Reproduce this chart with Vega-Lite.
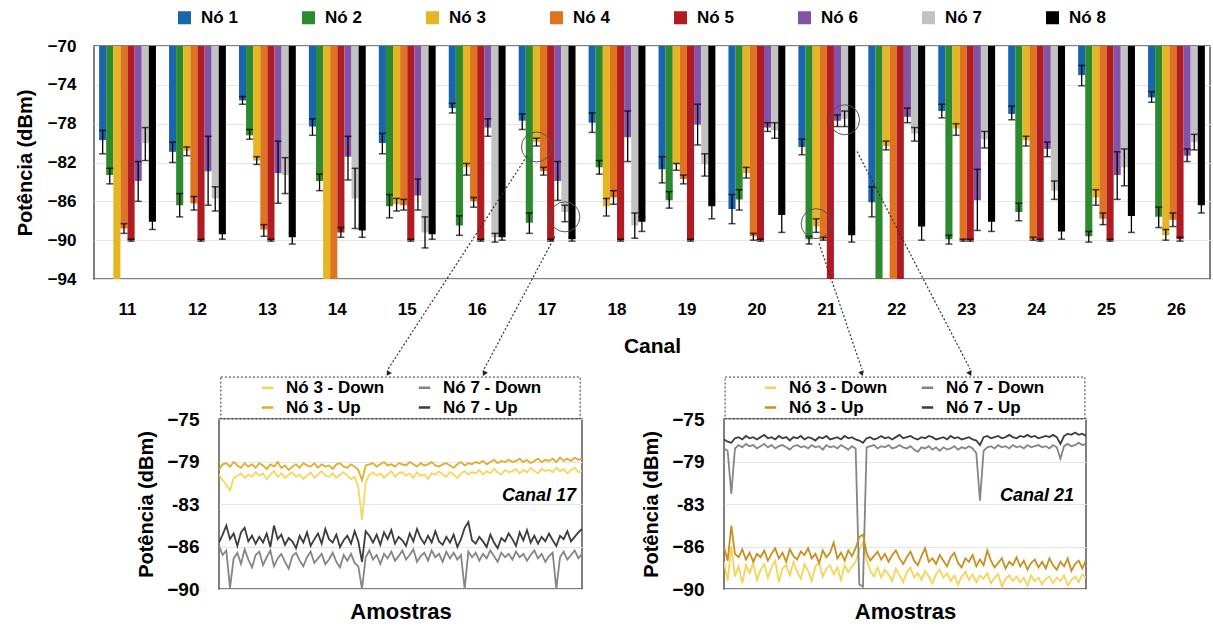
{
  "$schema": "https://vega.github.io/schema/vega-lite/v6.json",
  "padding": {"left": 14, "top": 8, "right": 2, "bottom": 5},
  "bounds": "flush",
  "spacing": 140,
  "resolve": {"scale": {"color": "independent"}, "legend": {"color": "independent"}},
  "config": {
    "font": "Liberation Sans",
    "view": {"stroke": "#555555", "strokeWidth": 1.5},
    "axis": {"labelFont": "Liberation Sans", "titleFont": "Liberation Sans", "labelFontWeight": "bold", "titleFontWeight": "bold", "labelColor": "#000000", "titleColor": "#000000", "ticks": false, "domain": false, "gridColor": "#e6e6e6", "labelOverlap": false},
    "legend": {"labelFont": "Liberation Sans", "labelFontWeight": "bold", "labelColor": "#000000"}
  },
  "datasets": {
    "bars": [
      {"canal": "11", "no": "Nó 1", "v": -79.7, "lo": -78.7, "hi": -81.1},
      {"canal": "11", "no": "Nó 2", "v": -83.3, "lo": -82.6, "hi": -84.2},
      {"canal": "11", "no": "Nó 3", "v": -94},
      {"canal": "11", "no": "Nó 4", "v": -88.8, "lo": -88.3, "hi": -89.3},
      {"canal": "11", "no": "Nó 5", "v": -90.0, "lo": -89.9, "hi": -90.1},
      {"canal": "11", "no": "Nó 6", "v": -83.9, "lo": -81.9, "hi": -86.0},
      {"canal": "11", "no": "Nó 7", "v": -80.0, "lo": -78.4, "hi": -81.8},
      {"canal": "11", "no": "Nó 8", "v": -88.1, "lo": -87.5, "hi": -88.9},
      {"canal": "12", "no": "Nó 1", "v": -80.9, "lo": -79.9, "hi": -82.0},
      {"canal": "12", "no": "Nó 2", "v": -86.4, "lo": -85.2, "hi": -87.6},
      {"canal": "12", "no": "Nó 3", "v": -80.8, "lo": -80.4, "hi": -81.3},
      {"canal": "12", "no": "Nó 4", "v": -86.2, "lo": -85.5, "hi": -86.9},
      {"canal": "12", "no": "Nó 5", "v": -90.0, "lo": -89.9, "hi": -90.1},
      {"canal": "12", "no": "Nó 6", "v": -82.9, "lo": -79.3, "hi": -86.4},
      {"canal": "12", "no": "Nó 7", "v": -85.7, "lo": -84.5, "hi": -87.0},
      {"canal": "12", "no": "Nó 8", "v": -89.4, "lo": -88.9, "hi": -89.9},
      {"canal": "13", "no": "Nó 1", "v": -75.6, "lo": -75.2, "hi": -76.0},
      {"canal": "13", "no": "Nó 2", "v": -79.2, "lo": -78.6, "hi": -79.6},
      {"canal": "13", "no": "Nó 3", "v": -81.8, "lo": -81.4, "hi": -82.2},
      {"canal": "13", "no": "Nó 4", "v": -88.9, "lo": -88.4, "hi": -89.6},
      {"canal": "13", "no": "Nó 5", "v": -90.0, "lo": -89.9, "hi": -90.1},
      {"canal": "13", "no": "Nó 6", "v": -83.1, "lo": -79.8, "hi": -86.2},
      {"canal": "13", "no": "Nó 7", "v": -83.3, "lo": -81.5, "hi": -85.2},
      {"canal": "13", "no": "Nó 8", "v": -89.7, "lo": -89.2, "hi": -90.4},
      {"canal": "14", "no": "Nó 1", "v": -78.3, "lo": -77.5, "hi": -79.2},
      {"canal": "14", "no": "Nó 2", "v": -83.9, "lo": -83.2, "hi": -84.9},
      {"canal": "14", "no": "Nó 3", "v": -94},
      {"canal": "14", "no": "Nó 4", "v": -94},
      {"canal": "14", "no": "Nó 5", "v": -89.2, "lo": -88.7, "hi": -89.7},
      {"canal": "14", "no": "Nó 6", "v": -81.4, "lo": -79.3, "hi": -83.8},
      {"canal": "14", "no": "Nó 7", "v": -85.7, "lo": -82.6, "hi": -88.8},
      {"canal": "14", "no": "Nó 8", "v": -89.0, "lo": -88.5, "hi": -89.7},
      {"canal": "15", "no": "Nó 1", "v": -80.0, "lo": -79.0, "hi": -81.1},
      {"canal": "15", "no": "Nó 2", "v": -86.5, "lo": -85.3, "hi": -87.7},
      {"canal": "15", "no": "Nó 3", "v": -86.3, "lo": -85.7, "hi": -87.0},
      {"canal": "15", "no": "Nó 4", "v": -86.4, "lo": -85.8, "hi": -86.9},
      {"canal": "15", "no": "Nó 5", "v": -90.0, "lo": -89.9, "hi": -90.1},
      {"canal": "15", "no": "Nó 6", "v": -85.4, "lo": -83.7, "hi": -86.9},
      {"canal": "15", "no": "Nó 7", "v": -89.2, "lo": -87.6, "hi": -90.8},
      {"canal": "15", "no": "Nó 8", "v": -89.4, "lo": -88.8, "hi": -89.9},
      {"canal": "16", "no": "Nó 1", "v": -76.4, "lo": -75.9, "hi": -76.9},
      {"canal": "16", "no": "Nó 2", "v": -88.5, "lo": -87.5, "hi": -89.5},
      {"canal": "16", "no": "Nó 3", "v": -82.5, "lo": -82.1, "hi": -83.3},
      {"canal": "16", "no": "Nó 4", "v": -86.0, "lo": -85.6, "hi": -86.6},
      {"canal": "16", "no": "Nó 5", "v": -90.0, "lo": -89.9, "hi": -90.1},
      {"canal": "16", "no": "Nó 6", "v": -78.4, "lo": -77.5, "hi": -79.3},
      {"canal": "16", "no": "Nó 7", "v": -89.7, "lo": -89.3, "hi": -90.2},
      {"canal": "16", "no": "Nó 8", "v": -89.7, "lo": -89.3, "hi": -90.0},
      {"canal": "17", "no": "Nó 1", "v": -77.7, "lo": -77.0, "hi": -78.6},
      {"canal": "17", "no": "Nó 2", "v": -88.2, "lo": -87.2, "hi": -89.3},
      {"canal": "17", "no": "Nó 3", "v": -79.9, "lo": -79.5, "hi": -80.3},
      {"canal": "17", "no": "Nó 4", "v": -82.9, "lo": -82.5, "hi": -83.3},
      {"canal": "17", "no": "Nó 5", "v": -90.0, "lo": -89.9, "hi": -90.1},
      {"canal": "17", "no": "Nó 6", "v": -83.9, "lo": -81.9, "hi": -85.9},
      {"canal": "17", "no": "Nó 7", "v": -87.1, "lo": -86.4, "hi": -88.1},
      {"canal": "17", "no": "Nó 8", "v": -89.9, "lo": -89.7, "hi": -90.1},
      {"canal": "18", "no": "Nó 1", "v": -77.9, "lo": -76.9, "hi": -78.9},
      {"canal": "18", "no": "Nó 2", "v": -82.5, "lo": -81.8, "hi": -83.2},
      {"canal": "18", "no": "Nó 3", "v": -86.5, "lo": -85.7, "hi": -87.5},
      {"canal": "18", "no": "Nó 4", "v": -85.6, "lo": -84.9, "hi": -86.3},
      {"canal": "18", "no": "Nó 5", "v": -90.0, "lo": -89.9, "hi": -90.1},
      {"canal": "18", "no": "Nó 6", "v": -79.4, "lo": -76.7, "hi": -81.9},
      {"canal": "18", "no": "Nó 7", "v": -88.5, "lo": -87.2, "hi": -89.8},
      {"canal": "18", "no": "Nó 8", "v": -88.1, "lo": -87.6, "hi": -89.1},
      {"canal": "19", "no": "Nó 1", "v": -82.7, "lo": -81.4, "hi": -84.1},
      {"canal": "19", "no": "Nó 2", "v": -85.9, "lo": -85.0, "hi": -86.7},
      {"canal": "19", "no": "Nó 3", "v": -82.2, "lo": -82.1, "hi": -82.8},
      {"canal": "19", "no": "Nó 4", "v": -83.7, "lo": -83.3, "hi": -84.2},
      {"canal": "19", "no": "Nó 5", "v": -90.0, "lo": -89.9, "hi": -90.1},
      {"canal": "19", "no": "Nó 6", "v": -78.1, "lo": -76.0, "hi": -80.2},
      {"canal": "19", "no": "Nó 7", "v": -82.2, "lo": -81.1, "hi": -83.4},
      {"canal": "19", "no": "Nó 8", "v": -86.5, "lo": -85.3, "hi": -87.8},
      {"canal": "20", "no": "Nó 1", "v": -86.8, "lo": -85.3, "hi": -88.3},
      {"canal": "20", "no": "Nó 2", "v": -85.8, "lo": -84.8, "hi": -86.9},
      {"canal": "20", "no": "Nó 3", "v": -83.1, "lo": -82.5, "hi": -83.6},
      {"canal": "20", "no": "Nó 4", "v": -89.6, "lo": -89.3, "hi": -90.0},
      {"canal": "20", "no": "Nó 5", "v": -90.0, "lo": -89.9, "hi": -90.1},
      {"canal": "20", "no": "Nó 6", "v": -78.4, "lo": -77.9, "hi": -78.8},
      {"canal": "20", "no": "Nó 7", "v": -78.7, "lo": -77.9, "hi": -79.5},
      {"canal": "20", "no": "Nó 8", "v": -87.4, "lo": -85.6, "hi": -89.2},
      {"canal": "21", "no": "Nó 1", "v": -80.4, "lo": -79.6, "hi": -81.2},
      {"canal": "21", "no": "Nó 2", "v": -89.9, "lo": -89.6, "hi": -90.4},
      {"canal": "21", "no": "Nó 3", "v": -88.6, "lo": -87.8, "hi": -89.2},
      {"canal": "21", "no": "Nó 4", "v": -89.9, "lo": -89.7, "hi": -90.0},
      {"canal": "21", "no": "Nó 5", "v": -94},
      {"canal": "21", "no": "Nó 6", "v": -77.7, "lo": -77.1, "hi": -78.3},
      {"canal": "21", "no": "Nó 7", "v": -77.5, "lo": -76.7, "hi": -78.3},
      {"canal": "21", "no": "Nó 8", "v": -89.5, "lo": -88.8, "hi": -90.2},
      {"canal": "22", "no": "Nó 1", "v": -86.1, "lo": -84.5, "hi": -87.6},
      {"canal": "22", "no": "Nó 2", "v": -94},
      {"canal": "22", "no": "Nó 3", "v": -80.3, "lo": -79.8, "hi": -80.7},
      {"canal": "22", "no": "Nó 4", "v": -94},
      {"canal": "22", "no": "Nó 5", "v": -94},
      {"canal": "22", "no": "Nó 6", "v": -77.3, "lo": -76.4, "hi": -77.9},
      {"canal": "22", "no": "Nó 7", "v": -79.0, "lo": -78.4, "hi": -79.8},
      {"canal": "22", "no": "Nó 8", "v": -88.6, "lo": -87.4, "hi": -90.0},
      {"canal": "23", "no": "Nó 1", "v": -76.7, "lo": -76.0, "hi": -77.4},
      {"canal": "23", "no": "Nó 2", "v": -89.9, "lo": -89.5, "hi": -90.4},
      {"canal": "23", "no": "Nó 3", "v": -78.5, "lo": -78.0, "hi": -79.2},
      {"canal": "23", "no": "Nó 4", "v": -90.0, "lo": -89.9, "hi": -90.1},
      {"canal": "23", "no": "Nó 5", "v": -90.0, "lo": -89.9, "hi": -90.1},
      {"canal": "23", "no": "Nó 6", "v": -85.9, "lo": -82.7, "hi": -89.0},
      {"canal": "23", "no": "Nó 7", "v": -79.6, "lo": -78.8, "hi": -80.5},
      {"canal": "23", "no": "Nó 8", "v": -88.1, "lo": -87.2, "hi": -89.1},
      {"canal": "24", "no": "Nó 1", "v": -77.0, "lo": -76.2, "hi": -77.6},
      {"canal": "24", "no": "Nó 2", "v": -87.1, "lo": -86.2, "hi": -88.0},
      {"canal": "24", "no": "Nó 3", "v": -79.7, "lo": -79.3, "hi": -80.3},
      {"canal": "24", "no": "Nó 4", "v": -89.9, "lo": -89.7, "hi": -90.0},
      {"canal": "24", "no": "Nó 5", "v": -90.0, "lo": -89.9, "hi": -90.1},
      {"canal": "24", "no": "Nó 6", "v": -80.6, "lo": -79.9, "hi": -81.4},
      {"canal": "24", "no": "Nó 7", "v": -84.9, "lo": -83.9, "hi": -85.8},
      {"canal": "24", "no": "Nó 8", "v": -89.1, "lo": -88.4, "hi": -89.9},
      {"canal": "25", "no": "Nó 1", "v": -73.0, "lo": -72.0, "hi": -74.1},
      {"canal": "25", "no": "Nó 2", "v": -89.6, "lo": -89.1, "hi": -90.2},
      {"canal": "25", "no": "Nó 3", "v": -85.6, "lo": -84.8, "hi": -86.4},
      {"canal": "25", "no": "Nó 4", "v": -87.8, "lo": -87.2, "hi": -88.4},
      {"canal": "25", "no": "Nó 5", "v": -90.0, "lo": -89.9, "hi": -90.1},
      {"canal": "25", "no": "Nó 6", "v": -83.3, "lo": -80.9, "hi": -85.8},
      {"canal": "25", "no": "Nó 7", "v": -82.5, "lo": -80.6, "hi": -84.4},
      {"canal": "25", "no": "Nó 8", "v": -87.5, "lo": -85.8, "hi": -89.2},
      {"canal": "26", "no": "Nó 1", "v": -75.3, "lo": -74.7, "hi": -75.8},
      {"canal": "26", "no": "Nó 2", "v": -87.6, "lo": -86.6, "hi": -88.7},
      {"canal": "26", "no": "Nó 3", "v": -89.5, "lo": -88.9, "hi": -90.0},
      {"canal": "26", "no": "Nó 4", "v": -87.9, "lo": -87.2, "hi": -88.6},
      {"canal": "26", "no": "Nó 5", "v": -89.9, "lo": -89.7, "hi": -90.1},
      {"canal": "26", "no": "Nó 6", "v": -81.3, "lo": -80.6, "hi": -81.9},
      {"canal": "26", "no": "Nó 7", "v": -79.9, "lo": -79.1, "hi": -80.7},
      {"canal": "26", "no": "Nó 8", "v": -86.4, "lo": -85.7, "hi": -87.2}
    ],
    "circles": [
      {"canal": "17", "no": "Nó 3", "v": -80.4},
      {"canal": "17", "no": "Nó 7", "v": -87.6},
      {"canal": "21", "no": "Nó 3", "v": -88.3},
      {"canal": "21", "no": "Nó 7", "v": -77.6}
    ],
    "arrows17": [
      {"x1": 84.0, "y1": -51.8, "x2": 46.1, "y2": -70.6},
      {"x1": 91.6, "y1": -58.9, "x2": 72.3, "y2": -70.6}
    ],
    "arrows21": [
      {"x1": 26.0, "y1": -59.5, "x2": 37.7, "y2": -70.6},
      {"x1": 36.4, "y1": -51.4, "x2": 67.3, "y2": -70.6}
    ],
    "c17": [
      {"i":0,"Nó 3 - Down":-79.9,"Nó 3 - Up":-79.5,"Nó 7 - Down":-86.2,"Nó 7 - Up":-85.9},
      {"i":1,"Nó 3 - Down":-80.4,"Nó 3 - Up":-79.0,"Nó 7 - Down":-87.0,"Nó 7 - Up":-85.2},
      {"i":2,"Nó 3 - Down":-80.8,"Nó 3 - Up":-78.9,"Nó 7 - Down":-86.6,"Nó 7 - Up":-84.4},
      {"i":3,"Nó 3 - Down":-81.3,"Nó 3 - Up":-79.2,"Nó 7 - Down":-89.9,"Nó 7 - Up":-85.6},
      {"i":4,"Nó 3 - Down":-80.2,"Nó 3 - Up":-78.8,"Nó 7 - Down":-87.3,"Nó 7 - Up":-85.1},
      {"i":5,"Nó 3 - Down":-80.0,"Nó 3 - Up":-79.1,"Nó 7 - Down":-86.8,"Nó 7 - Up":-86.2},
      {"i":6,"Nó 3 - Down":-79.8,"Nó 3 - Up":-79.3,"Nó 7 - Down":-87.8,"Nó 7 - Up":-85.0},
      {"i":7,"Nó 3 - Down":-80.2,"Nó 3 - Up":-78.9,"Nó 7 - Down":-86.5,"Nó 7 - Up":-84.6},
      {"i":8,"Nó 3 - Down":-79.9,"Nó 3 - Up":-79.2,"Nó 7 - Down":-87.4,"Nó 7 - Up":-85.8},
      {"i":9,"Nó 3 - Down":-80.1,"Nó 3 - Up":-79.0,"Nó 7 - Down":-88.1,"Nó 7 - Up":-85.3},
      {"i":10,"Nó 3 - Down":-79.7,"Nó 3 - Up":-79.3,"Nó 7 - Down":-87.0,"Nó 7 - Up":-86.0},
      {"i":11,"Nó 3 - Down":-80.0,"Nó 3 - Up":-78.9,"Nó 7 - Down":-86.7,"Nó 7 - Up":-85.4},
      {"i":12,"Nó 3 - Down":-79.8,"Nó 3 - Up":-79.1,"Nó 7 - Down":-87.9,"Nó 7 - Up":-85.9},
      {"i":13,"Nó 3 - Down":-80.3,"Nó 3 - Up":-79.4,"Nó 7 - Down":-87.2,"Nó 7 - Up":-85.1},
      {"i":14,"Nó 3 - Down":-79.9,"Nó 3 - Up":-79.0,"Nó 7 - Down":-86.6,"Nó 7 - Up":-86.3},
      {"i":15,"Nó 3 - Down":-79.6,"Nó 3 - Up":-79.2,"Nó 7 - Down":-88.0,"Nó 7 - Up":-84.4},
      {"i":16,"Nó 3 - Down":-80.1,"Nó 3 - Up":-78.8,"Nó 7 - Down":-87.3,"Nó 7 - Up":-85.6},
      {"i":17,"Nó 3 - Down":-79.8,"Nó 3 - Up":-79.3,"Nó 7 - Down":-86.9,"Nó 7 - Up":-85.2},
      {"i":18,"Nó 3 - Down":-80.2,"Nó 3 - Up":-79.1,"Nó 7 - Down":-87.6,"Nó 7 - Up":-86.1},
      {"i":19,"Nó 3 - Down":-79.9,"Nó 3 - Up":-79.5,"Nó 7 - Down":-88.2,"Nó 7 - Up":-85.5},
      {"i":20,"Nó 3 - Down":-79.7,"Nó 3 - Up":-79.2,"Nó 7 - Down":-87.1,"Nó 7 - Up":-85.8},
      {"i":21,"Nó 3 - Down":-80.1,"Nó 3 - Up":-79.0,"Nó 7 - Down":-86.8,"Nó 7 - Up":-86.4},
      {"i":22,"Nó 3 - Down":-79.9,"Nó 3 - Up":-79.3,"Nó 7 - Down":-87.5,"Nó 7 - Up":-85.3},
      {"i":23,"Nó 3 - Down":-80.3,"Nó 3 - Up":-78.9,"Nó 7 - Down":-88.0,"Nó 7 - Up":-85.9},
      {"i":24,"Nó 3 - Down":-80.0,"Nó 3 - Up":-79.1,"Nó 7 - Down":-87.2,"Nó 7 - Up":-85.0},
      {"i":25,"Nó 3 - Down":-79.7,"Nó 3 - Up":-79.2,"Nó 7 - Down":-86.7,"Nó 7 - Up":-86.2},
      {"i":26,"Nó 3 - Down":-80.2,"Nó 3 - Up":-78.9,"Nó 7 - Down":-87.7,"Nó 7 - Up":-85.6},
      {"i":27,"Nó 3 - Down":-79.9,"Nó 3 - Up":-79.3,"Nó 7 - Down":-87.3,"Nó 7 - Up":-85.1},
      {"i":28,"Nó 3 - Down":-79.6,"Nó 3 - Up":-79.0,"Nó 7 - Down":-86.9,"Nó 7 - Up":-86.0},
      {"i":29,"Nó 3 - Down":-80.0,"Nó 3 - Up":-79.2,"Nó 7 - Down":-87.8,"Nó 7 - Up":-84.7},
      {"i":30,"Nó 3 - Down":-80.1,"Nó 3 - Up":-79.1,"Nó 7 - Down":-87.4,"Nó 7 - Up":-85.6},
      {"i":31,"Nó 3 - Down":-79.8,"Nó 3 - Up":-79.4,"Nó 7 - Down":-86.8,"Nó 7 - Up":-85.9},
      {"i":32,"Nó 3 - Down":-80.2,"Nó 3 - Up":-79.0,"Nó 7 - Down":-87.6,"Nó 7 - Up":-85.2},
      {"i":33,"Nó 3 - Down":-79.9,"Nó 3 - Up":-78.9,"Nó 7 - Down":-88.1,"Nó 7 - Up":-86.3},
      {"i":34,"Nó 3 - Down":-79.7,"Nó 3 - Up":-79.2,"Nó 7 - Down":-87.0,"Nó 7 - Up":-85.7},
      {"i":35,"Nó 3 - Down":-80.0,"Nó 3 - Up":-79.3,"Nó 7 - Down":-87.5,"Nó 7 - Up":-85.3},
      {"i":36,"Nó 3 - Down":-80.3,"Nó 3 - Up":-79.0,"Nó 7 - Down":-86.9,"Nó 7 - Up":-86.0},
      {"i":37,"Nó 3 - Down":-80.1,"Nó 3 - Up":-79.2,"Nó 7 - Down":-87.7,"Nó 7 - Up":-84.9},
      {"i":38,"Nó 3 - Down":-81.0,"Nó 3 - Up":-79.5,"Nó 7 - Down":-88.0,"Nó 7 - Up":-85.8},
      {"i":39,"Nó 3 - Down":-83.9,"Nó 3 - Up":-80.4,"Nó 7 - Down":-90.0,"Nó 7 - Up":-87.6},
      {"i":40,"Nó 3 - Down":-80.6,"Nó 3 - Up":-79.1,"Nó 7 - Down":-87.2,"Nó 7 - Up":-84.9},
      {"i":41,"Nó 3 - Down":-79.9,"Nó 3 - Up":-79.0,"Nó 7 - Down":-86.6,"Nó 7 - Up":-85.3},
      {"i":42,"Nó 3 - Down":-79.7,"Nó 3 - Up":-78.9,"Nó 7 - Down":-87.4,"Nó 7 - Up":-85.9},
      {"i":43,"Nó 3 - Down":-80.0,"Nó 3 - Up":-79.2,"Nó 7 - Down":-87.0,"Nó 7 - Up":-85.2},
      {"i":44,"Nó 3 - Down":-79.8,"Nó 3 - Up":-79.0,"Nó 7 - Down":-87.8,"Nó 7 - Up":-86.1},
      {"i":45,"Nó 3 - Down":-80.2,"Nó 3 - Up":-78.8,"Nó 7 - Down":-86.9,"Nó 7 - Up":-85.0},
      {"i":46,"Nó 3 - Down":-79.9,"Nó 3 - Up":-79.1,"Nó 7 - Down":-87.3,"Nó 7 - Up":-85.6},
      {"i":47,"Nó 3 - Down":-79.6,"Nó 3 - Up":-79.0,"Nó 7 - Down":-86.7,"Nó 7 - Up":-84.8},
      {"i":48,"Nó 3 - Down":-80.1,"Nó 3 - Up":-79.2,"Nó 7 - Down":-87.5,"Nó 7 - Up":-86.0},
      {"i":49,"Nó 3 - Down":-79.8,"Nó 3 - Up":-78.9,"Nó 7 - Down":-87.1,"Nó 7 - Up":-85.4},
      {"i":50,"Nó 3 - Down":-79.7,"Nó 3 - Up":-79.0,"Nó 7 - Down":-86.6,"Nó 7 - Up":-85.7},
      {"i":51,"Nó 3 - Down":-80.0,"Nó 3 - Up":-79.1,"Nó 7 - Down":-87.4,"Nó 7 - Up":-86.2},
      {"i":52,"Nó 3 - Down":-79.8,"Nó 3 - Up":-78.8,"Nó 7 - Down":-87.0,"Nó 7 - Up":-85.1},
      {"i":53,"Nó 3 - Down":-80.2,"Nó 3 - Up":-79.0,"Nó 7 - Down":-86.5,"Nó 7 - Up":-85.8},
      {"i":54,"Nó 3 - Down":-79.7,"Nó 3 - Up":-79.2,"Nó 7 - Down":-87.6,"Nó 7 - Up":-84.7},
      {"i":55,"Nó 3 - Down":-80.0,"Nó 3 - Up":-78.9,"Nó 7 - Down":-87.1,"Nó 7 - Up":-85.5},
      {"i":56,"Nó 3 - Down":-79.9,"Nó 3 - Up":-79.1,"Nó 7 - Down":-86.8,"Nó 7 - Up":-86.0},
      {"i":57,"Nó 3 - Down":-80.3,"Nó 3 - Up":-79.0,"Nó 7 - Down":-87.5,"Nó 7 - Up":-85.3},
      {"i":58,"Nó 3 - Down":-79.8,"Nó 3 - Up":-78.8,"Nó 7 - Down":-86.6,"Nó 7 - Up":-85.9},
      {"i":59,"Nó 3 - Down":-79.9,"Nó 3 - Up":-79.1,"Nó 7 - Down":-87.2,"Nó 7 - Up":-84.9},
      {"i":60,"Nó 3 - Down":-79.6,"Nó 3 - Up":-79.2,"Nó 7 - Down":-86.9,"Nó 7 - Up":-85.8},
      {"i":61,"Nó 3 - Down":-79.9,"Nó 3 - Up":-79.0,"Nó 7 - Down":-87.6,"Nó 7 - Up":-86.1},
      {"i":62,"Nó 3 - Down":-80.1,"Nó 3 - Up":-78.9,"Nó 7 - Down":-86.7,"Nó 7 - Up":-85.4},
      {"i":63,"Nó 3 - Down":-79.7,"Nó 3 - Up":-79.1,"Nó 7 - Down":-87.3,"Nó 7 - Up":-85.9},
      {"i":64,"Nó 3 - Down":-79.9,"Nó 3 - Up":-79.3,"Nó 7 - Down":-86.8,"Nó 7 - Up":-85.2},
      {"i":65,"Nó 3 - Down":-80.2,"Nó 3 - Up":-79.0,"Nó 7 - Down":-87.4,"Nó 7 - Up":-86.3},
      {"i":66,"Nó 3 - Down":-79.8,"Nó 3 - Up":-78.8,"Nó 7 - Down":-87.0,"Nó 7 - Up":-85.6},
      {"i":67,"Nó 3 - Down":-79.6,"Nó 3 - Up":-79.1,"Nó 7 - Down":-90.0,"Nó 7 - Up":-84.6},
      {"i":68,"Nó 3 - Down":-79.9,"Nó 3 - Up":-78.9,"Nó 7 - Down":-86.7,"Nó 7 - Up":-84.1},
      {"i":69,"Nó 3 - Down":-79.7,"Nó 3 - Up":-79.0,"Nó 7 - Down":-87.2,"Nó 7 - Up":-85.7},
      {"i":70,"Nó 3 - Down":-79.8,"Nó 3 - Up":-78.8,"Nó 7 - Down":-86.8,"Nó 7 - Up":-86.0},
      {"i":71,"Nó 3 - Down":-79.5,"Nó 3 - Up":-78.9,"Nó 7 - Down":-87.5,"Nó 7 - Up":-85.4},
      {"i":72,"Nó 3 - Down":-79.9,"Nó 3 - Up":-78.7,"Nó 7 - Down":-86.9,"Nó 7 - Up":-85.8},
      {"i":73,"Nó 3 - Down":-79.6,"Nó 3 - Up":-79.0,"Nó 7 - Down":-87.3,"Nó 7 - Up":-86.3},
      {"i":74,"Nó 3 - Down":-79.8,"Nó 3 - Up":-78.8,"Nó 7 - Down":-86.6,"Nó 7 - Up":-85.2},
      {"i":75,"Nó 3 - Down":-79.4,"Nó 3 - Up":-78.6,"Nó 7 - Down":-87.1,"Nó 7 - Up":-85.9},
      {"i":76,"Nó 3 - Down":-79.7,"Nó 3 - Up":-78.9,"Nó 7 - Down":-87.6,"Nó 7 - Up":-86.4},
      {"i":77,"Nó 3 - Down":-79.9,"Nó 3 - Up":-78.7,"Nó 7 - Down":-86.8,"Nó 7 - Up":-85.5},
      {"i":78,"Nó 3 - Down":-79.5,"Nó 3 - Up":-78.8,"Nó 7 - Down":-87.2,"Nó 7 - Up":-85.8},
      {"i":79,"Nó 3 - Down":-79.7,"Nó 3 - Up":-78.6,"Nó 7 - Down":-86.9,"Nó 7 - Up":-85.1},
      {"i":80,"Nó 3 - Down":-79.6,"Nó 3 - Up":-78.8,"Nó 7 - Down":-87.4,"Nó 7 - Up":-85.6},
      {"i":81,"Nó 3 - Down":-79.4,"Nó 3 - Up":-78.7,"Nó 7 - Down":-86.7,"Nó 7 - Up":-86.2},
      {"i":82,"Nó 3 - Down":-79.8,"Nó 3 - Up":-78.5,"Nó 7 - Down":-87.2,"Nó 7 - Up":-85.0},
      {"i":83,"Nó 3 - Down":-79.5,"Nó 3 - Up":-78.8,"Nó 7 - Down":-86.9,"Nó 7 - Up":-85.7},
      {"i":84,"Nó 3 - Down":-79.7,"Nó 3 - Up":-78.6,"Nó 7 - Down":-87.5,"Nó 7 - Up":-84.8},
      {"i":85,"Nó 3 - Down":-79.3,"Nó 3 - Up":-78.9,"Nó 7 - Down":-87.0,"Nó 7 - Up":-85.9},
      {"i":86,"Nó 3 - Down":-79.6,"Nó 3 - Up":-78.7,"Nó 7 - Down":-86.6,"Nó 7 - Up":-85.3},
      {"i":87,"Nó 3 - Down":-79.8,"Nó 3 - Up":-78.5,"Nó 7 - Down":-87.3,"Nó 7 - Up":-86.0},
      {"i":88,"Nó 3 - Down":-79.4,"Nó 3 - Up":-78.8,"Nó 7 - Down":-86.9,"Nó 7 - Up":-85.4},
      {"i":89,"Nó 3 - Down":-79.6,"Nó 3 - Up":-78.6,"Nó 7 - Down":-87.6,"Nó 7 - Up":-85.8},
      {"i":90,"Nó 3 - Down":-79.5,"Nó 3 - Up":-78.7,"Nó 7 - Down":-87.1,"Nó 7 - Up":-85.1},
      {"i":91,"Nó 3 - Down":-79.7,"Nó 3 - Up":-78.5,"Nó 7 - Down":-86.8,"Nó 7 - Up":-85.7},
      {"i":92,"Nó 3 - Down":-79.3,"Nó 3 - Up":-78.8,"Nó 7 - Down":-90.0,"Nó 7 - Up":-86.2},
      {"i":93,"Nó 3 - Down":-79.6,"Nó 3 - Up":-78.4,"Nó 7 - Down":-87.2,"Nó 7 - Up":-85.3},
      {"i":94,"Nó 3 - Down":-79.4,"Nó 3 - Up":-78.7,"Nó 7 - Down":-86.7,"Nó 7 - Up":-85.6},
      {"i":95,"Nó 3 - Down":-79.8,"Nó 3 - Up":-78.5,"Nó 7 - Down":-87.4,"Nó 7 - Up":-84.9},
      {"i":96,"Nó 3 - Down":-79.5,"Nó 3 - Up":-78.7,"Nó 7 - Down":-87.0,"Nó 7 - Up":-85.8},
      {"i":97,"Nó 3 - Down":-79.3,"Nó 3 - Up":-78.4,"Nó 7 - Down":-86.6,"Nó 7 - Up":-85.4},
      {"i":98,"Nó 3 - Down":-79.7,"Nó 3 - Up":-78.6,"Nó 7 - Down":-87.3,"Nó 7 - Up":-85.0},
      {"i":99,"Nó 3 - Down":-79.6,"Nó 3 - Up":-78.5,"Nó 7 - Down":-86.9,"Nó 7 - Up":-84.7}
    ],
    "c21": [
      {"i":0,"Nó 3 - Down":-87.6,"Nó 3 - Up":-86.3,"Nó 7 - Down":-77.6,"Nó 7 - Up":-76.8},
      {"i":1,"Nó 3 - Down":-89.3,"Nó 3 - Up":-87.5,"Nó 7 - Down":-77.8,"Nó 7 - Up":-77.0},
      {"i":2,"Nó 3 - Down":-86.2,"Nó 3 - Up":-84.4,"Nó 7 - Down":-81.6,"Nó 7 - Up":-77.1},
      {"i":3,"Nó 3 - Down":-88.9,"Nó 3 - Up":-86.9,"Nó 7 - Down":-77.6,"Nó 7 - Up":-76.7},
      {"i":4,"Nó 3 - Down":-88.0,"Nó 3 - Up":-87.2,"Nó 7 - Down":-77.3,"Nó 7 - Up":-76.6},
      {"i":5,"Nó 3 - Down":-89.5,"Nó 3 - Up":-86.5,"Nó 7 - Down":-77.5,"Nó 7 - Up":-76.8},
      {"i":6,"Nó 3 - Down":-87.9,"Nó 3 - Up":-87.4,"Nó 7 - Down":-77.2,"Nó 7 - Up":-76.5},
      {"i":7,"Nó 3 - Down":-88.6,"Nó 3 - Up":-86.8,"Nó 7 - Down":-77.4,"Nó 7 - Up":-76.7},
      {"i":8,"Nó 3 - Down":-87.7,"Nó 3 - Up":-87.6,"Nó 7 - Down":-77.3,"Nó 7 - Up":-76.6},
      {"i":9,"Nó 3 - Down":-89.2,"Nó 3 - Up":-86.9,"Nó 7 - Down":-77.6,"Nó 7 - Up":-76.8},
      {"i":10,"Nó 3 - Down":-88.3,"Nó 3 - Up":-87.2,"Nó 7 - Down":-77.4,"Nó 7 - Up":-76.6},
      {"i":11,"Nó 3 - Down":-87.8,"Nó 3 - Up":-86.6,"Nó 7 - Down":-77.2,"Nó 7 - Up":-76.4},
      {"i":12,"Nó 3 - Down":-89.0,"Nó 3 - Up":-87.5,"Nó 7 - Down":-77.5,"Nó 7 - Up":-76.7},
      {"i":13,"Nó 3 - Down":-88.1,"Nó 3 - Up":-86.9,"Nó 7 - Down":-77.3,"Nó 7 - Up":-76.6},
      {"i":14,"Nó 3 - Down":-87.5,"Nó 3 - Up":-86.4,"Nó 7 - Down":-77.6,"Nó 7 - Up":-76.8},
      {"i":15,"Nó 3 - Down":-89.4,"Nó 3 - Up":-87.3,"Nó 7 - Down":-77.4,"Nó 7 - Up":-76.5},
      {"i":16,"Nó 3 - Down":-88.2,"Nó 3 - Up":-86.8,"Nó 7 - Down":-77.3,"Nó 7 - Up":-76.7},
      {"i":17,"Nó 3 - Down":-87.9,"Nó 3 - Up":-87.6,"Nó 7 - Down":-77.5,"Nó 7 - Up":-76.6},
      {"i":18,"Nó 3 - Down":-88.8,"Nó 3 - Up":-86.5,"Nó 7 - Down":-77.7,"Nó 7 - Up":-76.9},
      {"i":19,"Nó 3 - Down":-87.6,"Nó 3 - Up":-87.1,"Nó 7 - Down":-77.4,"Nó 7 - Up":-76.6},
      {"i":20,"Nó 3 - Down":-88.5,"Nó 3 - Up":-87.4,"Nó 7 - Down":-77.3,"Nó 7 - Up":-76.7},
      {"i":21,"Nó 3 - Down":-89.1,"Nó 3 - Up":-86.7,"Nó 7 - Down":-77.5,"Nó 7 - Up":-76.5},
      {"i":22,"Nó 3 - Down":-87.8,"Nó 3 - Up":-87.0,"Nó 7 - Down":-77.4,"Nó 7 - Up":-76.8},
      {"i":23,"Nó 3 - Down":-88.4,"Nó 3 - Up":-86.4,"Nó 7 - Down":-77.6,"Nó 7 - Up":-76.6},
      {"i":24,"Nó 3 - Down":-89.3,"Nó 3 - Up":-87.3,"Nó 7 - Down":-77.3,"Nó 7 - Up":-76.7},
      {"i":25,"Nó 3 - Down":-88.0,"Nó 3 - Up":-86.9,"Nó 7 - Down":-77.5,"Nó 7 - Up":-76.9},
      {"i":26,"Nó 3 - Down":-87.7,"Nó 3 - Up":-87.7,"Nó 7 - Down":-77.4,"Nó 7 - Up":-76.6},
      {"i":27,"Nó 3 - Down":-88.9,"Nó 3 - Up":-86.6,"Nó 7 - Down":-77.7,"Nó 7 - Up":-76.7},
      {"i":28,"Nó 3 - Down":-88.2,"Nó 3 - Up":-87.2,"Nó 7 - Down":-77.3,"Nó 7 - Up":-76.5},
      {"i":29,"Nó 3 - Down":-87.9,"Nó 3 - Up":-86.8,"Nó 7 - Down":-77.5,"Nó 7 - Up":-76.8},
      {"i":30,"Nó 3 - Down":-88.7,"Nó 3 - Up":-85.9,"Nó 7 - Down":-77.4,"Nó 7 - Up":-76.7},
      {"i":31,"Nó 3 - Down":-88.1,"Nó 3 - Up":-87.3,"Nó 7 - Down":-77.6,"Nó 7 - Up":-76.6},
      {"i":32,"Nó 3 - Down":-89.2,"Nó 3 - Up":-86.8,"Nó 7 - Down":-77.3,"Nó 7 - Up":-76.8},
      {"i":33,"Nó 3 - Down":-87.9,"Nó 3 - Up":-87.5,"Nó 7 - Down":-77.5,"Nó 7 - Up":-76.5},
      {"i":34,"Nó 3 - Down":-88.5,"Nó 3 - Up":-86.6,"Nó 7 - Down":-77.7,"Nó 7 - Up":-76.7},
      {"i":35,"Nó 3 - Down":-88.0,"Nó 3 - Up":-87.1,"Nó 7 - Down":-77.4,"Nó 7 - Up":-76.6},
      {"i":36,"Nó 3 - Down":-87.6,"Nó 3 - Up":-86.4,"Nó 7 - Down":-77.6,"Nó 7 - Up":-76.8},
      {"i":37,"Nó 3 - Down":-86.6,"Nó 3 - Up":-85.4,"Nó 7 - Down":-89.6,"Nó 7 - Up":-76.9},
      {"i":38,"Nó 3 - Down":-85.9,"Nó 3 - Up":-85.2,"Nó 7 - Down":-89.8,"Nó 7 - Up":-77.1},
      {"i":39,"Nó 3 - Down":-87.4,"Nó 3 - Up":-86.8,"Nó 7 - Down":-77.5,"Nó 7 - Up":-76.7},
      {"i":40,"Nó 3 - Down":-88.4,"Nó 3 - Up":-87.5,"Nó 7 - Down":-77.4,"Nó 7 - Up":-76.6},
      {"i":41,"Nó 3 - Down":-88.9,"Nó 3 - Up":-87.1,"Nó 7 - Down":-77.3,"Nó 7 - Up":-76.8},
      {"i":42,"Nó 3 - Down":-88.1,"Nó 3 - Up":-86.7,"Nó 7 - Down":-77.6,"Nó 7 - Up":-76.7},
      {"i":43,"Nó 3 - Down":-89.0,"Nó 3 - Up":-87.4,"Nó 7 - Down":-77.4,"Nó 7 - Up":-76.5},
      {"i":44,"Nó 3 - Down":-88.3,"Nó 3 - Up":-86.9,"Nó 7 - Down":-77.5,"Nó 7 - Up":-76.7},
      {"i":45,"Nó 3 - Down":-88.7,"Nó 3 - Up":-87.6,"Nó 7 - Down":-77.3,"Nó 7 - Up":-76.6},
      {"i":46,"Nó 3 - Down":-89.3,"Nó 3 - Up":-87.0,"Nó 7 - Down":-77.6,"Nó 7 - Up":-76.8},
      {"i":47,"Nó 3 - Down":-88.2,"Nó 3 - Up":-86.6,"Nó 7 - Down":-77.5,"Nó 7 - Up":-76.6},
      {"i":48,"Nó 3 - Down":-88.8,"Nó 3 - Up":-87.3,"Nó 7 - Down":-77.3,"Nó 7 - Up":-76.4},
      {"i":49,"Nó 3 - Down":-89.4,"Nó 3 - Up":-87.8,"Nó 7 - Down":-77.5,"Nó 7 - Up":-76.7},
      {"i":50,"Nó 3 - Down":-88.5,"Nó 3 - Up":-87.2,"Nó 7 - Down":-77.6,"Nó 7 - Up":-76.6},
      {"i":51,"Nó 3 - Down":-88.1,"Nó 3 - Up":-86.7,"Nó 7 - Down":-77.4,"Nó 7 - Up":-76.5},
      {"i":52,"Nó 3 - Down":-89.0,"Nó 3 - Up":-87.5,"Nó 7 - Down":-77.7,"Nó 7 - Up":-76.7},
      {"i":53,"Nó 3 - Down":-88.6,"Nó 3 - Up":-87.9,"Nó 7 - Down":-77.9,"Nó 7 - Up":-76.8},
      {"i":54,"Nó 3 - Down":-89.2,"Nó 3 - Up":-87.1,"Nó 7 - Down":-77.5,"Nó 7 - Up":-76.6},
      {"i":55,"Nó 3 - Down":-88.4,"Nó 3 - Up":-86.4,"Nó 7 - Down":-77.6,"Nó 7 - Up":-76.7},
      {"i":56,"Nó 3 - Down":-88.9,"Nó 3 - Up":-87.6,"Nó 7 - Down":-77.4,"Nó 7 - Up":-76.5},
      {"i":57,"Nó 3 - Down":-89.5,"Nó 3 - Up":-87.3,"Nó 7 - Down":-77.7,"Nó 7 - Up":-76.6},
      {"i":58,"Nó 3 - Down":-88.7,"Nó 3 - Up":-87.8,"Nó 7 - Down":-77.5,"Nó 7 - Up":-76.8},
      {"i":59,"Nó 3 - Down":-88.3,"Nó 3 - Up":-87.0,"Nó 7 - Down":-77.8,"Nó 7 - Up":-76.7},
      {"i":60,"Nó 3 - Down":-89.0,"Nó 3 - Up":-87.5,"Nó 7 - Down":-77.5,"Nó 7 - Up":-76.6},
      {"i":61,"Nó 3 - Down":-88.6,"Nó 3 - Up":-88.0,"Nó 7 - Down":-77.7,"Nó 7 - Up":-76.8},
      {"i":62,"Nó 3 - Down":-89.3,"Nó 3 - Up":-87.2,"Nó 7 - Down":-77.6,"Nó 7 - Up":-76.5},
      {"i":63,"Nó 3 - Down":-88.8,"Nó 3 - Up":-86.8,"Nó 7 - Down":-77.4,"Nó 7 - Up":-76.7},
      {"i":64,"Nó 3 - Down":-89.6,"Nó 3 - Up":-87.7,"Nó 7 - Down":-77.7,"Nó 7 - Up":-76.6},
      {"i":65,"Nó 3 - Down":-88.9,"Nó 3 - Up":-88.1,"Nó 7 - Down":-77.5,"Nó 7 - Up":-76.8},
      {"i":66,"Nó 3 - Down":-88.5,"Nó 3 - Up":-87.3,"Nó 7 - Down":-77.6,"Nó 7 - Up":-76.7},
      {"i":67,"Nó 3 - Down":-89.2,"Nó 3 - Up":-87.6,"Nó 7 - Down":-77.4,"Nó 7 - Up":-76.6},
      {"i":68,"Nó 3 - Down":-88.7,"Nó 3 - Up":-87.0,"Nó 7 - Down":-77.6,"Nó 7 - Up":-76.8},
      {"i":69,"Nó 3 - Down":-89.4,"Nó 3 - Up":-88.0,"Nó 7 - Down":-78.0,"Nó 7 - Up":-76.9},
      {"i":70,"Nó 3 - Down":-88.8,"Nó 3 - Up":-87.4,"Nó 7 - Down":-82.2,"Nó 7 - Up":-77.3},
      {"i":71,"Nó 3 - Down":-89.1,"Nó 3 - Up":-87.9,"Nó 7 - Down":-77.8,"Nó 7 - Up":-76.6},
      {"i":72,"Nó 3 - Down":-88.6,"Nó 3 - Up":-86.6,"Nó 7 - Down":-77.5,"Nó 7 - Up":-76.5},
      {"i":73,"Nó 3 - Down":-89.5,"Nó 3 - Up":-87.5,"Nó 7 - Down":-77.4,"Nó 7 - Up":-76.7},
      {"i":74,"Nó 3 - Down":-89.0,"Nó 3 - Up":-88.1,"Nó 7 - Down":-77.6,"Nó 7 - Up":-76.6},
      {"i":75,"Nó 3 - Down":-88.7,"Nó 3 - Up":-87.7,"Nó 7 - Down":-77.3,"Nó 7 - Up":-76.5},
      {"i":76,"Nó 3 - Down":-89.8,"Nó 3 - Up":-87.3,"Nó 7 - Down":-77.5,"Nó 7 - Up":-76.7},
      {"i":77,"Nó 3 - Down":-89.1,"Nó 3 - Up":-88.2,"Nó 7 - Down":-77.4,"Nó 7 - Up":-76.6},
      {"i":78,"Nó 3 - Down":-88.8,"Nó 3 - Up":-87.6,"Nó 7 - Down":-77.6,"Nó 7 - Up":-76.4},
      {"i":79,"Nó 3 - Down":-89.3,"Nó 3 - Up":-87.9,"Nó 7 - Down":-77.3,"Nó 7 - Up":-76.6},
      {"i":80,"Nó 3 - Down":-88.9,"Nó 3 - Up":-87.2,"Nó 7 - Down":-77.5,"Nó 7 - Up":-76.7},
      {"i":81,"Nó 3 - Down":-89.4,"Nó 3 - Up":-88.0,"Nó 7 - Down":-77.4,"Nó 7 - Up":-76.5},
      {"i":82,"Nó 3 - Down":-89.0,"Nó 3 - Up":-87.5,"Nó 7 - Down":-77.6,"Nó 7 - Up":-76.6},
      {"i":83,"Nó 3 - Down":-89.7,"Nó 3 - Up":-88.3,"Nó 7 - Down":-77.3,"Nó 7 - Up":-76.4},
      {"i":84,"Nó 3 - Down":-88.8,"Nó 3 - Up":-87.7,"Nó 7 - Down":-77.5,"Nó 7 - Up":-76.6},
      {"i":85,"Nó 3 - Down":-89.3,"Nó 3 - Up":-87.4,"Nó 7 - Down":-77.4,"Nó 7 - Up":-76.5},
      {"i":86,"Nó 3 - Down":-89.0,"Nó 3 - Up":-88.1,"Nó 7 - Down":-77.3,"Nó 7 - Up":-76.7},
      {"i":87,"Nó 3 - Down":-89.6,"Nó 3 - Up":-87.6,"Nó 7 - Down":-77.5,"Nó 7 - Up":-76.6},
      {"i":88,"Nó 3 - Down":-89.1,"Nó 3 - Up":-88.2,"Nó 7 - Down":-77.4,"Nó 7 - Up":-76.5},
      {"i":89,"Nó 3 - Down":-88.9,"Nó 3 - Up":-87.3,"Nó 7 - Down":-77.6,"Nó 7 - Up":-76.6},
      {"i":90,"Nó 3 - Down":-89.5,"Nó 3 - Up":-87.9,"Nó 7 - Down":-77.3,"Nó 7 - Up":-76.4},
      {"i":91,"Nó 3 - Down":-89.0,"Nó 3 - Up":-88.3,"Nó 7 - Down":-77.5,"Nó 7 - Up":-76.6},
      {"i":92,"Nó 3 - Down":-89.3,"Nó 3 - Up":-87.6,"Nó 7 - Down":-78.5,"Nó 7 - Up":-77.2},
      {"i":93,"Nó 3 - Down":-88.8,"Nó 3 - Up":-88.0,"Nó 7 - Down":-77.4,"Nó 7 - Up":-76.5},
      {"i":94,"Nó 3 - Down":-89.7,"Nó 3 - Up":-87.3,"Nó 7 - Down":-77.2,"Nó 7 - Up":-76.3},
      {"i":95,"Nó 3 - Down":-89.2,"Nó 3 - Up":-88.4,"Nó 7 - Down":-77.4,"Nó 7 - Up":-76.4},
      {"i":96,"Nó 3 - Down":-88.9,"Nó 3 - Up":-87.8,"Nó 7 - Down":-77.3,"Nó 7 - Up":-76.2},
      {"i":97,"Nó 3 - Down":-89.4,"Nó 3 - Up":-87.5,"Nó 7 - Down":-77.1,"Nó 7 - Up":-76.4},
      {"i":98,"Nó 3 - Down":-88.7,"Nó 3 - Up":-88.2,"Nó 7 - Down":-77.3,"Nó 7 - Up":-76.3},
      {"i":99,"Nó 3 - Down":-89.0,"Nó 3 - Up":-87.4,"Nó 7 - Down":-77.2,"Nó 7 - Up":-76.5}
    ]
  },
  "vconcat": [
    {
      "width": 1116,
      "height": 233,
      "data": {"name": "bars"},
      "encoding": {
        "x": {"field": "canal", "type": "ordinal", "title": "Canal", "scale": {"paddingInner": 0.187, "paddingOuter": 0.073}, "axis": {"labelAngle": 0, "labelFontSize": 17, "labelPadding": 22, "titleFontSize": 21, "titlePadding": 18, "grid": false}},
        "xOffset": {"field": "no", "type": "nominal", "sort": ["Nó 1", "Nó 2", "Nó 3", "Nó 4", "Nó 5", "Nó 6", "Nó 7", "Nó 8"]}
      },
      "layer": [
        {
          "mark": {"type": "bar", "clip": true},
          "encoding": {
            "y": {"field": "v", "type": "quantitative", "title": "Potência (dBm)", "scale": {"domain": [-94, -70], "nice": false, "zero": false}, "axis": {"values": [-70, -74, -78, -82, -86, -90, -94], "labelFontSize": 17, "labelPadding": 18, "titleFontSize": 20, "titlePadding": 12, "grid": true, "labelOverlap": false}},
            "y2": {"datum": -70},
            "color": {"field": "no", "type": "nominal", "scale": {"domain": ["Nó 1", "Nó 2", "Nó 3", "Nó 4", "Nó 5", "Nó 6", "Nó 7", "Nó 8"], "range": ["#1a66ae", "#2e8a2e", "#e5b624", "#e0731f", "#b01c22", "#8253a8", "#c2c2c2", "#000000"]}, "legend": {"title": null, "orient": "none", "direction": "horizontal", "legendX": 82, "legendY": -37, "labelFontSize": 17, "symbolType": "square", "symbolSize": 170, "symbolStrokeWidth": 0, "columnPadding": 62, "labelOffset": 8}}
          }
        },
        {
          "mark": {"type": "rule", "color": "#000000", "strokeWidth": 1.3},
          "encoding": {"y": {"field": "lo", "type": "quantitative", "title": "Potência (dBm)", "axis": {"values": [-70, -74, -78, -82, -86, -90, -94], "labelFontSize": 17, "labelPadding": 18, "titleFontSize": 20, "titlePadding": 12, "grid": true, "labelOverlap": false}}, "y2": {"field": "hi"}}
        },
        {
          "mark": {"type": "tick", "color": "#000000", "thickness": 1.5, "size": 7},
          "encoding": {"y": {"field": "lo", "type": "quantitative", "title": "Potência (dBm)", "axis": {"values": [-70, -74, -78, -82, -86, -90, -94], "labelFontSize": 17, "labelPadding": 18, "titleFontSize": 20, "titlePadding": 12, "grid": true, "labelOverlap": false}}}
        },
        {
          "mark": {"type": "tick", "color": "#000000", "thickness": 1.5, "size": 7},
          "encoding": {"y": {"field": "hi", "type": "quantitative", "title": "Potência (dBm)", "axis": {"values": [-70, -74, -78, -82, -86, -90, -94], "labelFontSize": 17, "labelPadding": 18, "titleFontSize": 20, "titlePadding": 12, "grid": true, "labelOverlap": false}}}
        },
        {
          "data": {"name": "circles"},
          "mark": {"type": "point", "shape": "circle", "filled": false, "size": 900, "color": "#555555", "strokeWidth": 1, "opacity": 1},
          "encoding": {"y": {"field": "v", "type": "quantitative", "title": "Potência (dBm)", "axis": {"values": [-70, -74, -78, -82, -86, -90, -94], "labelFontSize": 17, "labelPadding": 18, "titleFontSize": 20, "titlePadding": 12, "grid": true, "labelOverlap": false}}}
        }
      ]
    },
    {
      "bounds": "flush",
      "spacing": 10,
      "resolve": {"scale": {"color": "independent"}, "legend": {"color": "independent"}},
      "hconcat": [
        {
          "width": 115,
          "height": 170,
          "view": {"stroke": null},
          "data": {"values": [{}]},
          "mark": {"type": "point", "opacity": 0},
          "encoding": {}
        },
        {
          "width": 363,
          "height": 170,
          "layer": [
            {
              "data": {"values": [{}]},
              "mark": {"type": "rect", "filled": false, "stroke": "#333333", "strokeDash": [2, 2], "strokeWidth": 1, "clip": false},
              "encoding": {"x": {"datum": 0.5, "type": "quantitative"}, "x2": {"datum": 98.5}, "y": {"datum": -75, "type": "quantitative"}, "y2": {"datum": -71.3}}
            },
            {
              "data": {"name": "c17"},
              "transform": [{"fold": ["Nó 3 - Down", "Nó 7 - Down", "Nó 3 - Up", "Nó 7 - Up"], "as": ["s", "v"]}],
              "mark": {"type": "line", "strokeWidth": 1.8, "clip": true},
              "encoding": {
                "x": {"field": "i", "type": "quantitative", "scale": {"domain": [0, 99], "nice": false, "zero": false}, "axis": {"labels": false, "grid": false, "title": "Amostras", "titleFontSize": 22, "titlePadding": 12}},
                "y": {"field": "v", "type": "quantitative", "scale": {"domain": [-90, -75], "nice": false, "zero": false}, "axis": {"values": [-75, -78.75, -82.5, -86.25, -90], "labelExpr": "datum.value == -82.5 ? '-83' : format(round(datum.value), 'd')", "title": "Potência (dBm)", "labelFontSize": 19, "labelPadding": 20, "titleFontSize": 20, "titlePadding": 10, "grid": true}},
                "color": {"field": "s", "type": "nominal", "scale": {"domain": ["Nó 3 - Down", "Nó 3 - Up", "Nó 7 - Down", "Nó 7 - Up"], "range": ["#f7d660", "#e0ad2a", "#858585", "#3c3c3c"]}, "legend": {"title": null, "orient": "none", "legendX": 40, "legendY": -40, "columns": 2, "symbolType": "stroke", "symbolStrokeWidth": 2.5, "symbolSize": 130, "labelFontSize": 17, "columnPadding": 28, "rowPadding": 2, "labelOffset": 10}}
              }
            },
            {
              "data": {"values": [{"t": "Canal 17"}]},
              "mark": {"type": "text", "align": "right", "baseline": "middle", "fontStyle": "italic", "fontWeight": "bold", "fontSize": 18, "dx": -6, "color": "#000000"},
              "encoding": {"x": {"datum": 99, "type": "quantitative"}, "y": {"datum": -81.8, "type": "quantitative"}, "text": {"field": "t"}}
            },
            {
              "data": {"name": "arrows17"},
              "mark": {"type": "rule", "color": "#333333", "strokeDash": [2, 2], "strokeWidth": 1.2, "clip": false},
              "encoding": {"x": {"field": "x1", "type": "quantitative"}, "y": {"field": "y1", "type": "quantitative"}, "x2": {"field": "x2"}, "y2": {"field": "y2"}}
            },
            {
              "data": {"values": [{}]},
              "mark": {"type": "point", "shape": "triangle-down", "filled": true, "size": 35, "color": "#222222", "opacity": 1, "angle": 33, "clip": false},
              "encoding": {"x": {"datum": 46.1, "type": "quantitative"}, "y": {"datum": -71.0, "type": "quantitative"}}
            },
            {
              "data": {"values": [{}]},
              "mark": {"type": "point", "shape": "triangle-down", "filled": true, "size": 35, "color": "#222222", "opacity": 1, "angle": 28, "clip": false},
              "encoding": {"x": {"datum": 72.3, "type": "quantitative"}, "y": {"datum": -71.0, "type": "quantitative"}}
            }
          ]
        },
        {
          "width": 122,
          "height": 170,
          "view": {"stroke": null},
          "data": {"values": [{}]},
          "mark": {"type": "point", "opacity": 0},
          "encoding": {}
        },
        {
          "width": 362,
          "height": 170,
          "layer": [
            {
              "data": {"values": [{}]},
              "mark": {"type": "rect", "filled": false, "stroke": "#333333", "strokeDash": [2, 2], "strokeWidth": 1, "clip": false},
              "encoding": {"x": {"datum": 0.3, "type": "quantitative"}, "x2": {"datum": 98.7}, "y": {"datum": -75, "type": "quantitative"}, "y2": {"datum": -71.3}}
            },
            {
              "data": {"name": "c21"},
              "transform": [{"fold": ["Nó 3 - Down", "Nó 7 - Down", "Nó 3 - Up", "Nó 7 - Up"], "as": ["s", "v"]}],
              "mark": {"type": "line", "strokeWidth": 1.8, "clip": true},
              "encoding": {
                "x": {"field": "i", "type": "quantitative", "scale": {"domain": [0, 99], "nice": false, "zero": false}, "axis": {"labels": false, "grid": false, "title": "Amostras", "titleFontSize": 22, "titlePadding": 12}},
                "y": {"field": "v", "type": "quantitative", "scale": {"domain": [-90, -75], "nice": false, "zero": false}, "axis": {"values": [-75, -78.75, -82.5, -86.25, -90], "labelExpr": "datum.value == -82.5 ? '-83' : format(round(datum.value), 'd')", "title": "Potência (dBm)", "labelFontSize": 19, "labelPadding": 20, "titleFontSize": 20, "titlePadding": 10, "grid": true}},
                "color": {"field": "s", "type": "nominal", "scale": {"domain": ["Nó 3 - Down", "Nó 3 - Up", "Nó 7 - Down", "Nó 7 - Up"], "range": ["#f8d35a", "#c99020", "#858585", "#3c3c3c"]}, "legend": {"title": null, "orient": "none", "legendX": 38, "legendY": -40, "columns": 2, "symbolType": "stroke", "symbolStrokeWidth": 2.5, "symbolSize": 130, "labelFontSize": 17, "columnPadding": 28, "rowPadding": 2, "labelOffset": 10}}
              }
            },
            {
              "data": {"values": [{"t": "Canal 21"}]},
              "mark": {"type": "text", "align": "right", "baseline": "middle", "fontStyle": "italic", "fontWeight": "bold", "fontSize": 18, "dx": -12, "color": "#000000"},
              "encoding": {"x": {"datum": 99, "type": "quantitative"}, "y": {"datum": -81.8, "type": "quantitative"}, "text": {"field": "t"}}
            },
            {
              "data": {"name": "arrows21"},
              "mark": {"type": "rule", "color": "#333333", "strokeDash": [2, 2], "strokeWidth": 1.2, "clip": false},
              "encoding": {"x": {"field": "x1", "type": "quantitative"}, "y": {"field": "y1", "type": "quantitative"}, "x2": {"field": "x2"}, "y2": {"field": "y2"}}
            },
            {
              "data": {"values": [{}]},
              "mark": {"type": "point", "shape": "triangle-down", "filled": true, "size": 35, "color": "#222222", "opacity": 1, "angle": 341, "clip": false},
              "encoding": {"x": {"datum": 37.7, "type": "quantitative"}, "y": {"datum": -71.0, "type": "quantitative"}}
            },
            {
              "data": {"values": [{}]},
              "mark": {"type": "point", "shape": "triangle-down", "filled": true, "size": 35, "color": "#222222", "opacity": 1, "angle": 333, "clip": false},
              "encoding": {"x": {"datum": 67.3, "type": "quantitative"}, "y": {"datum": -71.0, "type": "quantitative"}}
            }
          ]
        }
      ]
    }
  ]
}
